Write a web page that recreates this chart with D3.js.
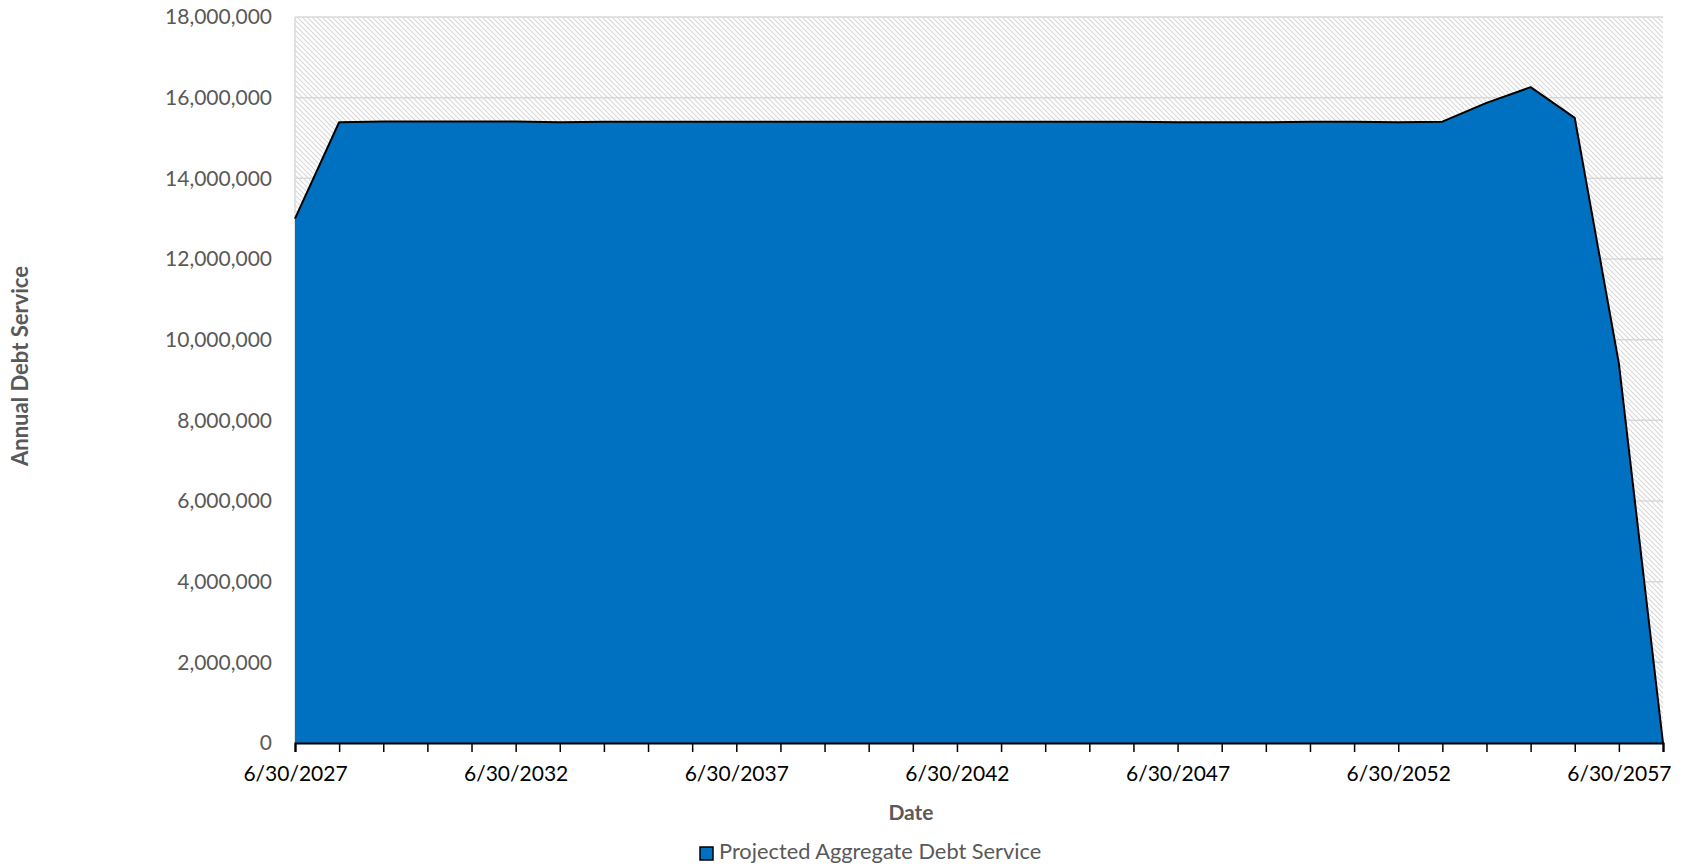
<!DOCTYPE html>
<html>
<head>
<meta charset="utf-8">
<script src="https://cdn.jsdelivr.net/npm/d3@7"></script>
<style>
  html, body { margin: 0; padding: 0; background: #fff; }
  svg { display: block; }
</style>
</head>
<body>
<svg id="chart" width="1692" height="866"></svg>
<script>
// ---- Data ----
const years = [2027,2028,2029,2030,2031,2032,2033,2034,2035,2036,2037,2038,2039,2040,2041,2042,2043,2044,2045,2046,2047,2048,2049,2050,2051,2052,2053,2054,2055,2056,2057,2058];
const debtService = [13000000,15390000,15410000,15410000,15410000,15410000,15390000,15405000,15405000,15405000,15405000,15405000,15405000,15405000,15405000,15405000,15405000,15405000,15405000,15405000,15390000,15390000,15390000,15405000,15405000,15390000,15405000,15870000,16260000,15500000,9410000,0];
const labelYears = [2027,2032,2037,2042,2047,2052,2057];
const yTicks = [0,2000000,4000000,6000000,8000000,10000000,12000000,14000000,16000000,18000000];
const seriesName = "Projected Aggregate Debt Service";
const xTitle = "Date";
const yTitle = "Annual Debt Service";

// ---- Layout ----
const svg = d3.select("#chart");
const plot = {left: 295, right: 1663, top: 17, bottom: 743};
const FONT = "Lato, 'Open Sans', sans-serif";

const x = d3.scaleLinear().domain([years[0], years[years.length-1]]).range([plot.left, plot.right]);
const y = d3.scaleLinear().domain([0, 18000000]).range([plot.bottom, plot.top]);

// Hatch pattern
const defs = svg.append("defs");
const pat = defs.append("pattern")
  .attr("id", "hatch").attr("patternUnits", "userSpaceOnUse")
  .attr("width", 5).attr("height", 5);
pat.append("rect").attr("width", 5).attr("height", 5).attr("fill", "#ffffff");
pat.append("path").attr("d", "M-1,-1 L6,6 M-1,4 L1,6 M4,-1 L6,1")
  .attr("stroke", "#d8d8d8").attr("stroke-width", 1.1);

svg.append("rect")
  .attr("x", plot.left).attr("y", plot.top)
  .attr("width", plot.right - plot.left).attr("height", plot.bottom - plot.top)
  .attr("fill", "url(#hatch)");

// Gridlines
svg.append("g").selectAll("line").data(yTicks.filter(d => d > 0)).join("line")
  .attr("x1", plot.left).attr("x2", plot.right)
  .attr("y1", d => y(d)).attr("y2", d => y(d))
  .attr("stroke", "#d9d9d9").attr("stroke-width", 1.5);

// Left plot border
svg.append("line")
  .attr("x1", plot.left).attr("x2", plot.left)
  .attr("y1", plot.top).attr("y2", plot.bottom)
  .attr("stroke", "#d9d9d9").attr("stroke-width", 1.5);

// Area
const data = years.map((yr, i) => ({yr, v: debtService[i]}));
svg.append("path").datum(data)
  .attr("fill", "#0070c0")
  .attr("d", d3.area().x(d => x(d.yr)).y0(y(0)).y1(d => y(d.v)));
svg.append("path").datum(data)
  .attr("fill", "none").attr("stroke", "#000").attr("stroke-width", 2)
  .attr("stroke-linejoin", "round")
  .attr("d", d3.line().x(d => x(d.yr)).y(d => y(d.v)));

// Y axis labels
const yAxis = d3.axisLeft(y).tickValues(yTicks).tickSize(0).tickPadding(0)
  .tickFormat(d3.format(","));
const gy = svg.append("g").attr("transform", `translate(${plot.left - 23},0)`).call(yAxis);
gy.select(".domain").remove();
gy.selectAll("text").attr("font-family", FONT).attr("font-size", 21).attr("fill", "#595959");

// X axis
const xAxis = d3.axisBottom(x).tickValues(years).tickSize(9).tickPadding(14)
  .tickFormat(d => labelYears.includes(d) ? "6/30/" + d : "");
const gx = svg.append("g").attr("transform", `translate(0,${plot.bottom})`).call(xAxis);
gx.select(".domain").attr("stroke", "#000").attr("stroke-width", 2.2);
gx.selectAll(".tick line").attr("stroke", "#000").attr("stroke-width", 1.5);
gx.selectAll("text").attr("font-family", FONT).attr("font-size", 21).attr("fill", "#000");

// Axis titles
svg.append("text").attr("x", 911).attr("y", 820).attr("text-anchor", "middle")
  .attr("font-family", FONT).attr("font-size", 21).attr("font-weight", "bold").attr("fill", "#595959")
  .text(xTitle);
svg.append("text").attr("transform", "translate(28,366) rotate(-90)").attr("text-anchor", "middle")
  .attr("font-family", FONT).attr("font-size", 22).attr("font-weight", "bold").attr("fill", "#595959")
  .text(yTitle);

// Legend
const lg = svg.append("g").attr("transform", "translate(700,847)");
lg.append("rect").attr("x", 0).attr("y", 0).attr("width", 13).attr("height", 13)
  .attr("fill", "#0070c0").attr("stroke", "#000").attr("stroke-width", 1.5);
lg.append("text").attr("x", 19).attr("y", 12)
  .attr("font-family", FONT).attr("font-size", 21.8).attr("fill", "#595959")
  .text(seriesName);
</script>
</body>
</html>
